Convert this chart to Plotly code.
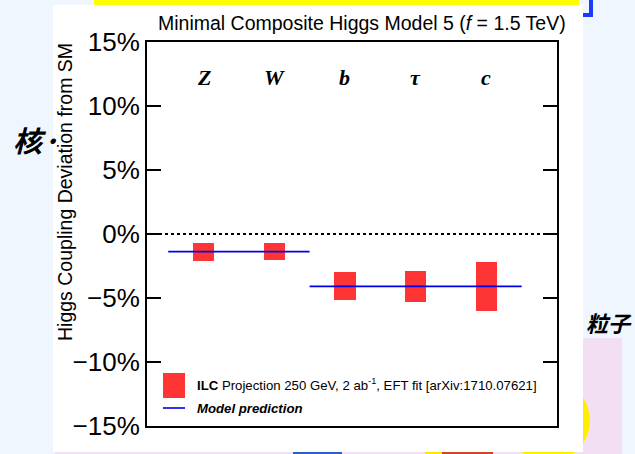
import plotly.graph_objects as go

# ---------------- data ----------------
categories = ["Z", "W", "b", "τ", "c"]
model_prediction = [-1.38, -1.38, -4.09, -4.09, -4.09]   # % deviation from SM
ilc_error = [0.69, 0.68, 1.10, 1.20, 1.90]                 # ILC 250 GeV, 2 ab^-1 projected precision (%)
model_groups = [[0, 1], [2, 3, 4]]                         # categories sharing one model prediction
ytick_values = [-15, -10, -5, 0, 5, 10, 15]
ytick_labels = [("−" if v < 0 else "") + f"{abs(v)}%" for v in ytick_values]

# ---------------- geometry ----------------
W, H = 635, 454
L, R, T, B = 147, 78, 42, 28
PW, PH = W - L - R, H - T - B


def px(xp):
    return (xp - L) / PW


def py(yp):
    return (H - B - yp) / PH


idx = list(range(len(categories)))
fig = go.Figure()

fig.add_trace(go.Bar(
    x=idx,
    y=[2 * e for e in ilc_error],
    base=[m - e for m, e in zip(model_prediction, ilc_error)],
    width=0.3,
    marker=dict(color="#ff3535", line=dict(width=0)),
    showlegend=False,
    hoverinfo="skip",
))

for g in model_groups:
    fig.add_trace(go.Scatter(
        x=[g[0] - 0.5, g[-1] + 0.5],
        y=[model_prediction[g[0]], model_prediction[g[-1]]],
        mode="lines",
        line=dict(color="#0000e6", width=1.6),
        showlegend=False,
        hoverinfo="skip",
    ))

shapes = []
# slide background decorations
shapes.append(dict(type="rect", xref="paper", yref="paper", layer="below",
                   x0=px(583), x1=px(622), y0=py(454), y1=py(338),
                   fillcolor="#f2dff3", line=dict(width=0)))
shapes.append(dict(type="rect", xref="paper", yref="paper", layer="below",
                   x0=px(55), x1=px(583), y0=py(454), y1=py(450),
                   fillcolor="#f2dff3", line=dict(width=0)))
shapes.append(dict(type="circle", xref="paper", yref="paper", layer="below",
                   x0=px(507), x1=px(590), y0=py(462), y1=py(379),
                   fillcolor="#ffee00", line=dict(width=0)))
shapes.append(dict(type="rect", xref="paper", yref="paper", layer="below",
                   x0=px(293), x1=px(342), y0=py(454), y1=py(450),
                   fillcolor="#2a5fc8", line=dict(width=0)))
shapes.append(dict(type="rect", xref="paper", yref="paper", layer="below",
                   x0=px(425), x1=px(442), y0=py(454), y1=py(450),
                   fillcolor="#ffe600", line=dict(width=0)))
shapes.append(dict(type="rect", xref="paper", yref="paper", layer="below",
                   x0=px(442), x1=px(493), y0=py(454), y1=py(450),
                   fillcolor="#d0442c", line=dict(width=0)))
shapes.append(dict(type="rect", xref="paper", yref="paper", layer="below",
                   x0=px(94), x1=px(579), y0=py(5), y1=py(0),
                   fillcolor="#ffff00", line=dict(width=0)))
shapes.append(dict(type="rect", xref="paper", yref="paper", layer="below",
                   x0=px(589), x1=px(593), y0=py(17), y1=py(0),
                   fillcolor="#1a3cff", line=dict(width=0)))
shapes.append(dict(type="rect", xref="paper", yref="paper", layer="below",
                   x0=px(583), x1=px(593), y0=py(17), y1=py(13),
                   fillcolor="#1a3cff", line=dict(width=0)))
# white chart panel
shapes.append(dict(type="rect", xref="paper", yref="paper", layer="below",
                   x0=px(53), x1=px(583), y0=py(452), y1=py(5),
                   fillcolor="white", line=dict(width=0)))
# zero reference line
shapes.append(dict(type="line", xref="paper", yref="y", x0=0, x1=1, y0=0, y1=0,
                   line=dict(color="black", width=2, dash="dot")))
# legend samples
shapes.append(dict(type="rect", xref="paper", yref="paper",
                   x0=px(163), x1=px(185), y0=py(398), y1=py(373),
                   fillcolor="#ff3535", line=dict(width=0)))
shapes.append(dict(type="line", xref="paper", yref="paper",
                   x0=px(163), x1=px(185), y0=py(408), y1=py(408),
                   line=dict(color="#0000e6", width=1.6)))

annotations = []
for i, c in enumerate(categories):
    annotations.append(dict(x=i, y=12.2, xref="x", yref="y", text=f"<b><i>{c}</i></b>",
                            showarrow=False,
                            font=dict(family="Liberation Serif", size=22, color="black")))
annotations.append(dict(x=px(362), y=py(23), xref="paper", yref="paper",
                        text="Minimal Composite Higgs Model 5 (<i>f</i> = 1.5 TeV)",
                        showarrow=False, xanchor="center", yanchor="middle",
                        font=dict(family="Liberation Sans", size=19.5, color="black")))
annotations.append(dict(x=px(65), y=py(192), xref="paper", yref="paper",
                        text="Higgs Coupling Deviation from SM", textangle=-90,
                        showarrow=False, xanchor="center", yanchor="middle",
                        font=dict(family="Liberation Sans", size=19.5, color="black")))
annotations.append(dict(x=px(195), y=py(384), xref="paper", yref="paper",
                        text="<b>ILC</b> Projection 250 GeV, 2 ab<sup>-1</sup>, EFT fit [arXiv:1710.07621]",
                        showarrow=False, xanchor="left", yanchor="middle",
                        font=dict(family="Liberation Sans", size=13.2, color="black")))
annotations.append(dict(x=px(195), y=py(408), xref="paper", yref="paper",
                        text="<b><i>Model prediction</i></b>",
                        showarrow=False, xanchor="left", yanchor="middle",
                        font=dict(family="Liberation Sans", size=13.2, color="black")))
# slide text behind chart
annotations.append(dict(x=px(11), y=py(139), xref="paper", yref="paper",
                        text="<b><i>核·</i></b>", showarrow=False,
                        xanchor="left", yanchor="middle",
                        font=dict(family="Noto Sans CJK JP", size=29, color="black")))
annotations.append(dict(x=px(634), y=py(322), xref="paper", yref="paper",
                        text="<b><i>粒子</i></b>", showarrow=False,
                        xanchor="right", yanchor="middle",
                        font=dict(family="Noto Sans CJK JP", size=22, color="black")))

fig.update_layout(
    width=W, height=H,
    margin=dict(l=L, r=R, t=T, b=B, pad=0),
    paper_bgcolor="#eff6fe",
    plot_bgcolor="white",
    showlegend=False,
    bargap=0,
    shapes=shapes,
    annotations=annotations,
    xaxis=dict(range=[-0.8, 5.0], showticklabels=False, ticks="", showgrid=False,
               zeroline=False, showline=True, linecolor="black", linewidth=2,
               mirror=True, fixedrange=True),
    yaxis=dict(range=[-15, 15], tickvals=ytick_values, ticktext=ytick_labels,
               ticks="inside", ticklen=14, tickwidth=2, tickcolor="black",
               showgrid=False, zeroline=False, showline=True, linecolor="black",
               linewidth=2, mirror="ticks",
               tickfont=dict(family="Liberation Sans", size=26, color="black"),
               fixedrange=True),
)

fig.write_html("out.html", config={"displayModeBar": False},
               post_script="document.body.style.margin='0';document.body.style.overflow='hidden';")
